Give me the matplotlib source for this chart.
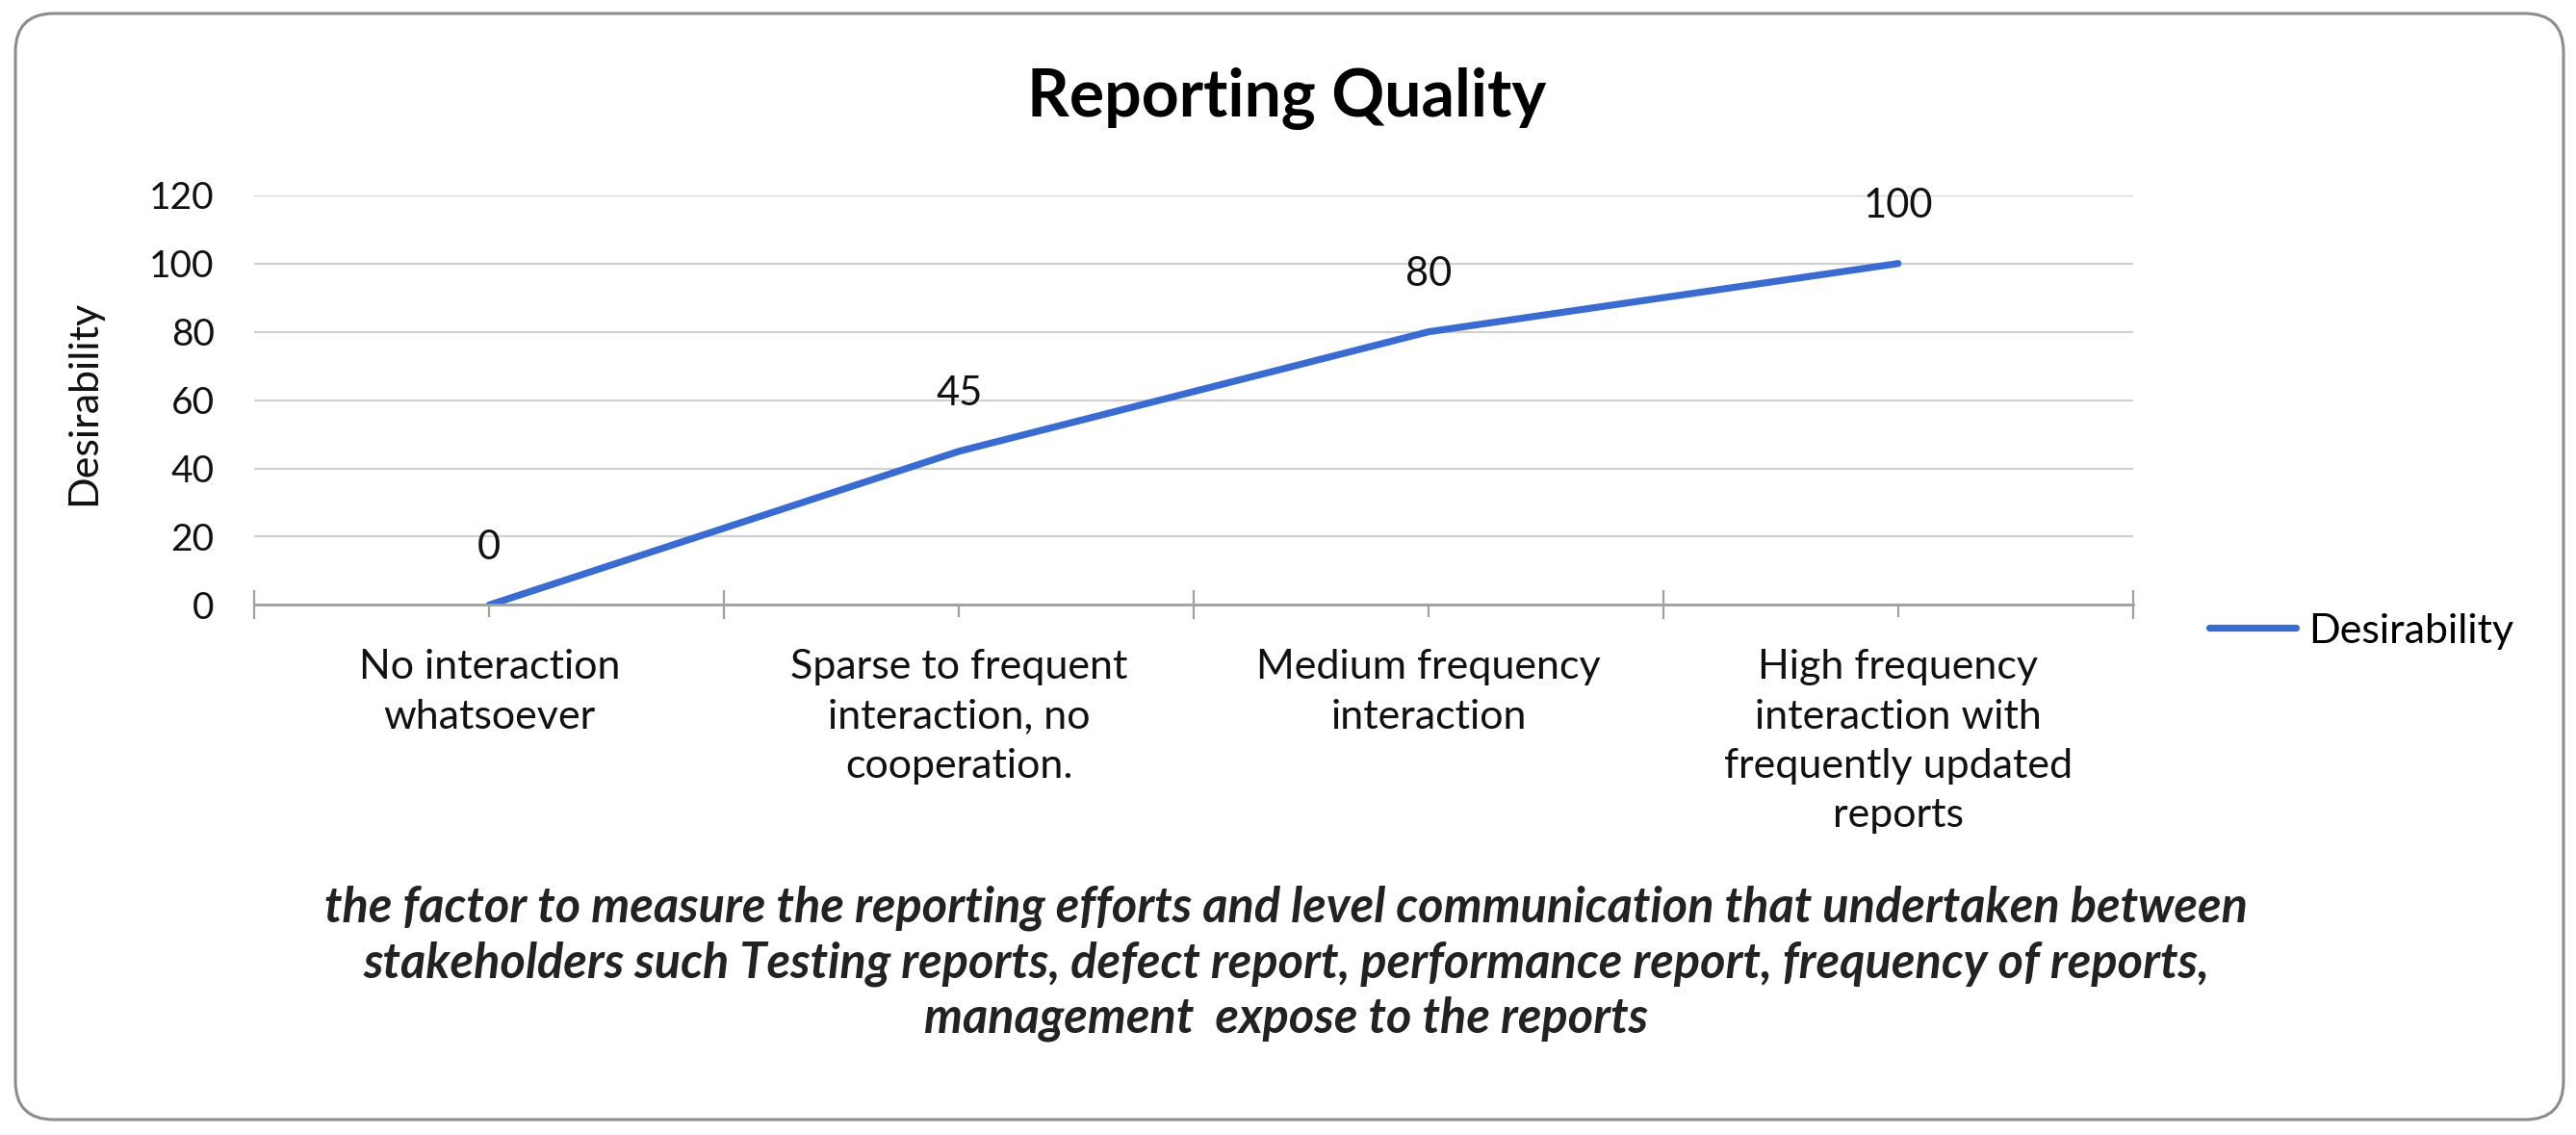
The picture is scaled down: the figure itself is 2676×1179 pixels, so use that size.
import numpy as np
import matplotlib
matplotlib.use("Agg")
import matplotlib.pyplot as plt
from matplotlib.patches import FancyBboxPatch

plt.rcParams['font.family'] = ['Lato', 'DejaVu Sans']

categories = [
    "No interaction\nwhatsoever",
    "Sparse to frequent\ninteraction, no\ncooperation.",
    "Medium frequency\ninteraction",
    "High frequency\ninteraction with\nfrequently updated\nreports",
]
desirability = [0, 45, 80, 100]
yticks = [0, 20, 40, 60, 80, 100, 120]
title = "Reporting Quality"
caption = ("the factor to measure the reporting efforts and level communication that undertaken between\n"
           "stakeholders such Testing reports, defect report, performance report, frequency of reports,\n"
           "management  expose to the reports")

BLUE = '#3a6bd1'

fig = plt.figure(figsize=(13.38, 5.895), dpi=200)
ax = fig.add_axes([0.0988, 0.467, 0.7292, 0.361])

x = np.arange(len(categories))
ax.plot(x, desirability, color=BLUE, lw=2.6, solid_capstyle='round', label='Desirability')
for xi, v in zip(x, desirability):
    ax.annotate(str(v), (xi, v), xytext=(0, 21.5), textcoords='offset points',
                ha='center', va='center', fontsize=15, color='#111111')

ax.set_xlim(-0.5, len(categories) - 0.5)
ax.set_ylim(0, 120)
ax.set_yticks(yticks)
ax.tick_params(axis='y', length=0, pad=15, labelsize=14, labelcolor='#111111')
ax.yaxis.grid(True, color='#d0d0d0', lw=0.8)
ax.set_axisbelow(True)

# boundaries get the major ticks, category labels sit on minor ticks
ax.set_xticks(np.arange(-0.5, len(categories)), labels=[''] * (len(categories) + 1))
ax.set_xticks(x, labels=categories, minor=True)
ax.tick_params(axis='x', which='major', direction='inout', length=11, width=0.8, color='#a0a0a0')
ax.tick_params(axis='x', which='minor', direction='out', length=4.5, width=0.8, color='#a0a0a0',
               pad=12, labelsize=15.5, labelcolor='#111111')
for lab in ax.get_xticklabels(minor=True):
    lab.set_linespacing(1.43)
    lab.set_va('top')

for s in ['top', 'right', 'left']:
    ax.spines[s].set_visible(False)
ax.spines['bottom'].set_color('#a0a0a0')
ax.spines['bottom'].set_linewidth(1.0)

ax.set_ylabel('Desirability', fontsize=15.5, color='#111111')
ax.yaxis.set_label_coords(-0.0813, 0.494)

fig.legend(loc='center left', bbox_to_anchor=(0.8576, 0.444), frameon=False,
           fontsize=15.5, handlelength=2.1, handletextpad=0.3, borderpad=0, borderaxespad=0)

fig.text(0.4994, 0.913, title, ha='center', va='center', fontsize=24.5, fontweight='bold')
fig.text(0.4994, 0.151, caption, ha='center', va='center', fontsize=18.2,
         fontweight='bold', fontstyle='italic', linespacing=1.27, color='#222222')

box = FancyBboxPatch((0.08, 0.08), 13.235, 5.745, boxstyle='round,pad=0,rounding_size=0.2',
                     transform=fig.dpi_scale_trans, fill=False, edgecolor='#8c8c8c', lw=1.1)
fig.patches.append(box)

fig.savefig('out.png', dpi=200, facecolor='white')
